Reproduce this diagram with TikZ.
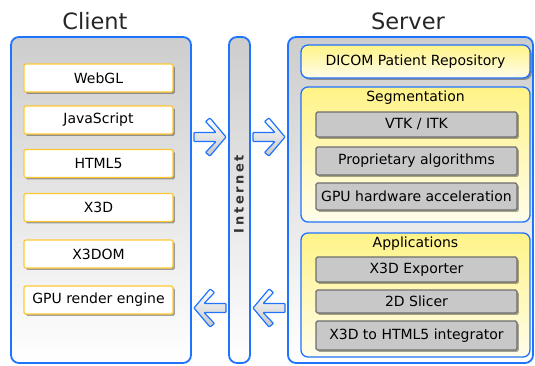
\documentclass[tikz,border=0pt]{standalone}
\usepackage{fontspec}
\setmainfont{DejaVu Sans}
\usetikzlibrary{shadows,calc}
\definecolor{panelblue}{RGB}{30,115,255}
\definecolor{boxyellow}{RGB}{255,200,50}
\definecolor{graybox}{RGB}{200,200,200}
\definecolor{grayborder}{RGB}{110,110,110}
\definecolor{paneltop}{RGB}{205,205,205}
\definecolor{yellowtop}{RGB}{255,243,135}
\definecolor{yellowbot}{RGB}{255,253,235}
\tikzset{
  panel/.style={draw=panelblue, line width=1.8pt, rounded corners=8pt,
    top color=paneltop, bottom color=white, minimum height=326pt, inner sep=0pt},
  title/.style={font=\fontsize{22.5}{26}\selectfont, text=black!85},
  sh/.style={drop shadow={shadow xshift=1.8pt, shadow yshift=-1.8pt, fill=black, opacity=0.35}},
  cbox/.style={sh, draw=boxyellow, line width=1.3pt, fill=white, rounded corners=1.5pt,
    minimum width=149pt, minimum height=28pt, inner sep=0pt, font=\fontsize{14}{16}\selectfont},
  ybox/.style={draw=panelblue, line width=1.3pt, rounded corners=7pt,
    top color=yellowtop, bottom color=yellowbot, minimum width=229pt, inner sep=0pt},
  gbox/.style={sh, draw=grayborder, line width=1.1pt, fill=graybox, rounded corners=1.5pt,
    minimum width=201pt, inner sep=0pt, font=\fontsize{14}{16}\selectfont},
  lbl/.style={font=\fontsize{14}{16}\selectfont, inner sep=0pt},
  rarrow/.pic={
    \path[draw=panelblue, line width=1.2pt, line join=round, rounded corners=0.8pt,
      top color=white, bottom color=black!22]
      (-16,-4.5) -- (6,-4.5) -- (-4.5,-15.5) -- (0,-19) -- (16,0) -- (0,19)
      -- (-4.5,15.5) -- (6,4.5) -- (-16,4.5) -- cycle;
  }
}
\begin{document}
\begin{tikzpicture}[x=1pt,y=-1pt]
\useasboundingbox (0,0) rectangle (535,365);
% panels
\node[panel, minimum width=180pt] (client) at (101,200) {};
\node[panel, minimum width=21pt] (internet) at (239.5,200) {};
\node[panel, minimum width=245pt] (server) at (410.5,200) {};
% titles
\node[title] (clienttitle) at (95,21) {Client};
\node[title] (servertitle) at (408,21) {Server};
% internet label
\node[rotate=90, font=\fontsize{13}{14}\selectfont\bfseries\addfontfeature{LetterSpace=20}, text=black!80] (inettext) at (239,194) {Internet};
% client boxes
\node[cbox] (webgl) at (98.5,78) {WebGL};
\node[cbox] (js) at (98.5,120) {JavaScript};
\node[cbox] (html) at (98.5,163.5) {HTML5};
\node[cbox] (xtd) at (98.5,207.5) {X3D};
\node[cbox] (xtdom) at (98.5,254) {X3DOM};
\node[cbox] (gpur) at (98.5,300) {GPU render engine};
% server
\node[ybox, sh, minimum height=33pt, font=\fontsize{14}{16}\selectfont] (dicom) at (415.5,61.5) {DICOM Patient Repository};
\node[ybox, minimum height=135pt] (seg) at (415.5,154.5) {};
\node[lbl] (segtitle) at (415.5,98) {Segmentation};
\node[gbox, minimum height=25pt] (vtk) at (416.5,124.5) {VTK / ITK};
\node[gbox, minimum height=28pt] (prop) at (416.5,161) {Proprietary algorithms};
\node[gbox, minimum height=27pt] (gpuhw) at (416.5,196.5) {GPU hardware acceleration};
\node[ybox, minimum height=124pt] (apps) at (415.5,295) {};
\node[lbl] (appstitle) at (415.5,243.5) {Applications};
\node[gbox, minimum height=25pt] (exp) at (416.5,269.5) {X3D Exporter};
\node[gbox, minimum height=23pt] (slicer) at (416.5,301.5) {2D Slicer};
\node[gbox, minimum height=29pt] (integ) at (416.5,335.5) {X3D to HTML5 integrator};
% arrows
\coordinate (m1) at ($(client.east)!0.5!(internet.west)$);
\coordinate (m2) at ($(internet.east)!0.5!(server.west)$);
\pic at (m1 |- 0,137) {rarrow};
\pic at (m2 |- 0,137) {rarrow};
\pic[xscale=-1] at (m1 |- 0,308) {rarrow};
\pic[xscale=-1] at (m2 |- 0,308) {rarrow};
\end{tikzpicture}
\end{document}
